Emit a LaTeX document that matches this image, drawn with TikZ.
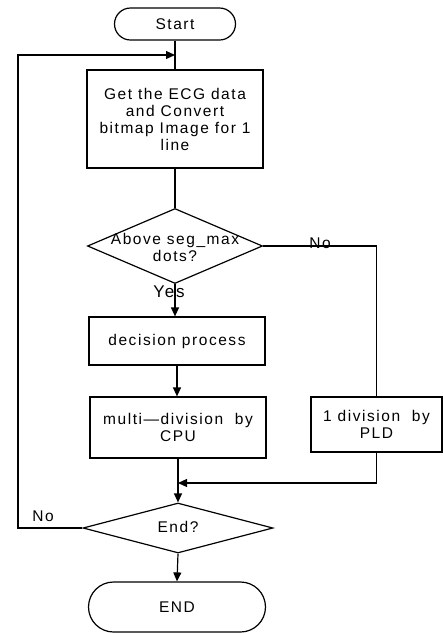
\documentclass[tikz,border=0pt]{standalone}
\usepackage{fontspec}
\setmainfont{Liberation Sans}[LetterSpace=10]
\usepackage{tikz}
\usetikzlibrary{shapes}
\usetikzlibrary{arrows.meta}
\usetikzlibrary{positioning}

\begin{document}
\begin{tikzpicture}[x=1pt,y=-1pt]
    \tikzstyle{every node}=[font=\fontsize{15.5}{17}\selectfont];
    \tikzstyle{term}=[draw, rounded rectangle, line width=1.2pt, inner sep=0pt];
    \tikzstyle{proc}=[draw, rectangle, line width=1.2pt, align=center, inner sep=0pt];
    \tikzstyle{dec}=[draw, diamond, line width=1.2pt, inner sep=0pt];
    \tikzstyle{flow}=[line width=1.2pt];
    \tikzstyle{arr}=[flow, -{Triangle[length=9pt,width=8pt]}];
    \useasboundingbox (0,0) rectangle (443,633);

    \node[term, minimum width=121pt, minimum height=32pt] (start) at (175,24) {Start};
    \node[proc, minimum width=176pt, minimum height=98pt] (box1) at (175,119)
      {Get the ECG data\\and Convert\\bitmap Image for 1\\line};
    \node[dec, minimum width=175pt, minimum height=75pt] (dec1) at (175,246) {};
    \node[align=center] (dec1txt) at (175,247) {Above seg\_max\\dots?};
    \node[proc, minimum width=176pt, minimum height=48pt] (box2) at (177,341) {decision process};
    \node[proc, minimum width=176pt, minimum height=61pt] (box3) at (178,427.5) {multi---division\ \ by\\CPU};
    \node[proc, minimum width=131pt, minimum height=55pt] (box4) at (376.5,424.5) {1 division\ \ by\\PLD};
    \node[dec, minimum width=190pt, minimum height=50pt] (dec2) at (178,528) {};
    \node (dec2txt) at (178,527) {End?};
    \node[term, minimum width=177pt, minimum height=50pt] (end) at (177,607) {END};

    \node[font=\fontsize{17}{19}\selectfont] (yes) at (169,292) {Yes};
    \node (noR) at (320,243) {No};
    \node (noL) at (43,516) {No};

    \coordinate (lp) at (175,55);
    \coordinate (lc) at (18,55);
    \coordinate (jn) at (178,483);

    \draw[flow] (start.south) -- (box1.north);
    \draw[flow] (box1.south) -- (dec1.north);
    \draw[arr] (dec1.south) -- (dec1.south |- box2.north);
    \draw[arr] (box2.south) -- (box2.south |- box3.north);
    \draw[flow] (dec1.east) -| (box4.north);
    \draw[flow] (box3.south) -- (jn);
    \draw[arr] (box4.south) |- (jn);
    \draw[arr] (jn) -- (dec2.north);
    \draw[arr] (dec2.south) -- (end.north);
    \draw[arr] (dec2.west) -| (lc) -- (lp);
\end{tikzpicture}
\end{document}
